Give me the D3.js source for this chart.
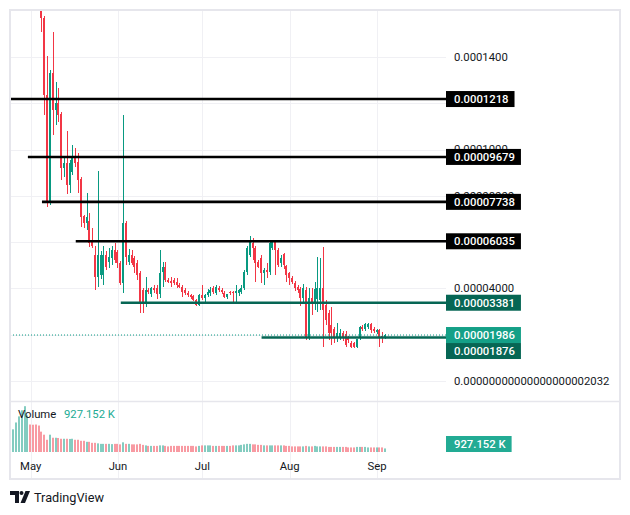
<!DOCTYPE html>
<html><head><meta charset="utf-8">
<script src="https://cdn.jsdelivr.net/npm/d3@7"></script>
<style>body{margin:0;background:#fff}svg{display:block}text{font-family:Roboto,"Liberation Sans",sans-serif}</style>
</head><body><svg id="c" width="630" height="515"></svg>
<script>
// ---- data (prices in units of 1e-6) ----
const startDate = "2024-05-05";
const open  = [160.0,156.8,123.6,76.9,133.1,117.1,120.1,115.3,92.0,94.2,84.7,90.3,96.8,94.6,87.3,71.3,68.3,69.1,60.0,54.4,44.9,45.8,45.8,54.4,51.4,53.1,56.6,55.7,51.0,42.3,68.3,51.4,54.4,53.1,51.0,46.7,39.3,34.1,39.3,37.6,40.2,40.2,37.6,47.1,49.2,43.6,43.2,43.6,42.8,41.5,40.6,39.3,38.0,37.2,36.7,35.0,32.8,37.2,35.9,37.2,38.0,40.2,38.0,40.2,39.3,38.0,36.3,38.4,38.4,38.0,38.0,38.4,40.2,47.1,54.4,59.6,57.5,51.4,53.1,46.7,48.0,47.1,57.5,60.0,56.6,51.0,54.9,49.6,46.7,44.5,42.3,40.6,39.7,35.9,39.3,18.6,35.9,34.1,35.4,35.0,40.2,32.8,29.4,24.2,22.5,19.0,18.6,20.7,20.3,19.0,16.4,16.4,14.7,18.6,23.3,22.5,23.3,24.6,22.5,21.2,22.0,19.4,18.6];
const high  = [162.0,157.5,140.4,134.4,150.8,129.2,126.6,116.0,96.3,108.0,95.5,102.0,100.7,98.5,88.0,71.7,81.2,72.6,66.1,58.3,90.7,56.0,58.3,56.0,57.5,58.3,59.6,56.6,52.0,114.9,69.1,57.0,56.6,54.0,52.3,47.5,40.0,44.9,40.2,40.6,41.5,41.5,56.6,51.4,51.4,44.5,44.9,44.5,44.5,42.3,41.5,40.2,38.9,37.6,37.2,35.4,37.6,41.5,37.6,39.7,40.6,41.0,41.5,41.0,40.2,38.9,37.6,38.9,38.9,41.5,39.7,41.5,48.0,58.3,62.6,61.7,58.3,52.3,54.4,48.8,51.0,60.9,60.4,60.4,57.5,54.4,55.3,50.1,47.1,45.3,43.2,41.5,40.6,41.9,40.6,40.2,40.2,42.8,53.6,53.1,57.9,35.0,30.7,31.9,23.3,25.0,22.5,21.6,21.6,19.4,17.3,16.8,18.1,23.8,24.2,25.1,25.1,25.1,23.3,22.5,22.5,21.0,20.3];
const low   = [150.8,114.9,75.2,76.0,106.3,110.6,111.9,86.8,88.0,80.8,81.2,89.0,92.4,81.2,66.5,66.1,65.2,57.9,57.5,39.3,40.6,44.0,41.5,48.0,48.8,50.1,51.0,48.8,41.5,38.0,50.1,50.1,50.1,46.7,43.6,29.4,29.4,32.0,37.6,36.3,38.0,35.5,35.9,40.6,42.8,42.3,40.6,41.5,40.2,40.2,36.3,37.2,36.3,35.5,34.6,32.4,32.4,35.0,33.7,36.3,36.7,37.6,37.2,38.4,37.6,35.9,35.4,37.2,33.7,33.7,36.7,37.6,39.3,45.8,53.6,52.3,42.8,48.8,42.3,41.5,44.5,45.8,56.6,45.8,49.2,49.2,48.4,42.8,41.5,41.9,38.9,38.0,32.4,33.3,17.7,17.7,28.5,30.7,29.8,30.7,14.7,24.2,17.7,15.6,16.4,16.8,17.7,17.3,14.7,16.4,14.3,14.3,14.3,17.7,21.6,21.6,22.5,20.7,20.7,20.3,14.7,16.4,18.1];
const close = [156.8,123.6,76.9,133.1,117.1,120.1,114.9,92.0,94.2,84.7,94.2,96.8,94.2,86.8,70.8,68.3,70.8,59.6,58.3,44.9,54.4,54.4,54.4,49.2,53.6,56.6,52.3,51.0,42.3,68.3,53.6,54.4,51.0,49.2,45.8,34.1,34.1,39.3,38.4,40.2,39.3,37.6,46.7,49.2,43.6,42.8,42.3,42.3,41.5,40.6,38.4,38.0,37.2,36.3,35.0,32.8,37.2,35.9,37.2,38.4,39.3,38.4,40.6,39.3,38.4,36.3,37.6,38.0,38.0,38.9,39.3,40.2,47.1,57.5,60.9,57.5,51.0,49.2,46.7,48.0,47.1,59.6,60.0,56.6,50.1,53.1,50.1,45.8,44.5,42.8,40.2,39.3,35.9,40.2,18.6,35.9,33.7,39.7,40.2,40.2,30.7,26.4,20.7,20.7,18.6,20.7,20.7,18.6,15.6,17.7,14.7,14.7,18.1,23.3,22.5,24.6,24.6,22.0,21.6,22.0,18.6,19.0,19.86];

const volumeStart = "2024-04-24";
const volumes = [5830,5900,7685,9275,10865,11925,9540,7155,7100,7155,6890,
  5300,4505,3180,4505,3710,3710,3650,3445,3445,3445,
  3400,3445,3180,3180,2915,2915,2650,2650,2385,2385,
  2250,2120,2120,2120,2120,2050,2120,2120,1990,2520,
  2120,2120,1990,1990,1990,2120,1855,1720,1590,1590,
  1590,1590,1720,1720,1590,1460,1590,1590,1590,1590,
  1590,1590,1590,1590,1590,1460,1590,1720,1720,1720,
  1720,1590,1590,1590,1590,1590,1590,1590,1720,1720,
  1720,1855,1990,2120,2120,1990,1990,1855,1855,1720,
  1720,1720,1720,1720,1720,1720,1720,1590,1590,1460,
  1460,1460,1460,1460,1590,1460,1460,1590,1460,1460,
  1460,1460,1325,1325,1325,1325,1325,1325,1325,1190,
  1190,1190,1325,1325,1325,1325,1190,1190,1190,1190,
  1190,1190,927.152];
const earlyVolumeUp = [1,1,1,1,1,1,1,0,0,0,0];
const lastVolumeLabel = "927.152 K";

const levelValues = [121.8, 96.79, 77.38, 60.35, 33.81, 18.76];
const levelLabels = ["0.0001218","0.00009679","0.00007738","0.00006035","0.00003381","0.00001876"];
const levelStarts = ["2024-04-20","2024-04-30","2024-05-05","2024-05-17","2024-06-02","2024-07-22"];
const levelKinds  = ["res","res","res","res","sup","sup"];
const lastPrice = 19.86, lastPriceLabel = "0.00001986";

const yTickValues = [0,20,40,60,80,100,120,140];
const yTickLabels = ["0.00000000000000000002032","0.00002000","0.00004000","0.00006000","0.00008000","0.0001000","0.0001200","0.0001400"];
const monthTicks  = ["2024-05-01","2024-06-01","2024-07-01","2024-08-01","2024-09-01"];
const monthLabels = ["May","Jun","Jul","Aug","Sep"];

// ---- drawing ----
const UP="#089981", DOWN="#f23645", TXT="#131722", GRID="#f0f0f4", BORDER="#e6e6ec";
const FS = 11.3;
const parseDay = d3.utcParse("%Y-%m-%d");
const DAY = 864e5;
const svg = d3.select("#c");
const L=10, R=446, W=620, T=10, MB=401, VB=452, B=479;
const x = d3.scaleUtc().domain([parseDay("2024-05-01"), parseDay("2024-09-01")]).range([30.7, 377]);
const y = d3.scaleLinear().domain([-8.64, 160.26]).range([MB, T]);
const yv = d3.scaleLinear().domain([0, 12500]).range([VB, 404]);

const t0 = parseDay(startDate);
const candles = open.map((o,i)=>({date:new Date(+t0+i*DAY), o, h:high[i], l:low[i], c:close[i]}));
const v0 = parseDay(volumeStart);
const vols = volumes.map((v,i)=>{
  const d = new Date(+v0+i*DAY);
  const ci = Math.round((d - t0)/DAY);
  const up = ci>=0 ? candles[ci].c>=candles[ci].o : !!earlyVolumeUp[i];
  return {date:d, v, up};
});

svg.append("rect").attr("width",630).attr("height",515).attr("fill","#fff");
const defs = svg.append("defs");
defs.append("clipPath").attr("id","mc").append("rect").attr("x",L).attr("y",T).attr("width",R-L).attr("height",MB-T);

// grid
const g = svg.append("g");
g.selectAll(".hg").data(yTickValues).join("line")
  .attr("x1",L).attr("x2",R).attr("y1",d=>Math.round(y(d))+0.5).attr("y2",d=>Math.round(y(d))+0.5)
  .attr("stroke",GRID).attr("stroke-width",1);
g.selectAll(".vg").data(monthTicks).join("line")
  .attr("x1",d=>Math.round(x(parseDay(d)))+0.5).attr("x2",d=>Math.round(x(parseDay(d)))+0.5)
  .attr("y1",T).attr("y2",B).attr("stroke",GRID).attr("stroke-width",1);

// volume
svg.append("g").selectAll("rect").data(vols).join("rect")
  .attr("x",d=>Math.floor(x(d.date))-1).attr("width",2)
  .attr("y",d=>yv(d.v)).attr("height",d=>VB-yv(d.v))
  .attr("fill",d=>d.up?"rgba(8,153,129,0.5)":"rgba(242,54,69,0.5)");

// candles
const cg = svg.append("g").attr("clip-path","url(#mc)").attr("shape-rendering","crispEdges");
const cs = cg.selectAll("g").data(candles).join("g");
cs.append("rect")
  .attr("x",d=>Math.floor(x(d.date))).attr("width",1)
  .attr("y",d=>y(d.h)).attr("height",d=>Math.max(1,y(d.l)-y(d.h)))
  .attr("fill",d=>d.c>=d.o?UP:DOWN);
cs.append("rect")
  .attr("x",d=>Math.floor(x(d.date))-1).attr("width",2)
  .attr("y",d=>y(Math.max(d.o,d.c))).attr("height",d=>Math.max(1,Math.abs(y(d.o)-y(d.c))))
  .attr("fill",d=>d.c>=d.o?UP:DOWN);

// level lines
const lg = svg.append("g").attr("clip-path","url(#mc)");
lg.append("line").attr("x1",L).attr("x2",R).attr("y1",y(lastPrice)).attr("y2",y(lastPrice))
  .attr("stroke",UP).attr("stroke-width",1).attr("stroke-dasharray","1 2");
lg.selectAll(".lv").data(levelValues).join("line")
  .attr("x1",(d,i)=>Math.max(L,x(parseDay(levelStarts[i])))).attr("x2",R)
  .attr("y1",d=>y(d)).attr("y2",d=>y(d))
  .attr("stroke",(d,i)=>levelKinds[i]==="res"?"#000":"#066654").attr("stroke-width",2.6);

// y tick labels (hidden where a price label sits on top, as in the reference)
const allLabelValues = levelValues.concat([lastPrice]);
const shownTicks = yTickValues.map((v,i)=>({v, t:yTickLabels[i]}))
  .filter(d=>!allLabelValues.some(lv=>Math.abs(y(lv)-y(d.v))<5));
svg.append("g").selectAll("text").data(shownTicks).join("text")
  .attr("x",454).attr("y",d=>y(d.v)).attr("dy","0.35em")
  .attr("font-size",FS).attr("fill",TXT).text(d=>d.t);

// price label boxes
const labs = levelValues.map((v,i)=>({v, text:levelLabels[i], fill:levelKinds[i]==="res"?"#000":"#066654"}));
labs.push({v:lastPrice, text:lastPriceLabel, fill:"#14a087", prio:1});
labs.sort((a,b)=> (y(a.v)-y(b.v)) || ((b.prio||0)-(a.prio||0)));
let prev=-1e9;
labs.forEach(l=>{ let yy=y(l.v); if(yy<prev+16) yy=prev+16; l.yy=yy; prev=yy; });
const lb = svg.append("g");
function boxLabel(parent, yy, text, fill){
  const gg = parent.append("g");
  const r = gg.append("rect").attr("x",446).attr("y",yy-8).attr("height",16).attr("fill",fill);
  const t = gg.append("text").attr("x",454).attr("y",yy).attr("dy","0.35em").attr("font-size",FS)
    .attr("font-weight",500).attr("fill","#fff").text(text);
  r.attr("width", t.node().getComputedTextLength()+14);
}
labs.forEach(l=>boxLabel(lb, l.yy, l.text, l.fill));

// time labels
svg.append("g").selectAll("text").data(monthTicks).join("text")
  .attr("x",d=>x(parseDay(d))).attr("y",466).attr("dy","0.35em").attr("text-anchor","middle")
  .attr("font-size",FS).attr("fill",TXT).text((d,i)=>monthLabels[i]);

// volume legend
svg.append("text").attr("x",18).attr("y",414).attr("dy","0.35em").attr("font-size",FS).attr("fill",TXT).text("Volume");
svg.append("text").attr("x",64).attr("y",414).attr("dy","0.35em").attr("font-size",FS).attr("fill","#22ab94").text(lastVolumeLabel);
const vy = Math.min(yv(volumes[volumes.length-1]), VB-8);
boxLabel(svg, vy, lastVolumeLabel, "#22ab94");

// borders
svg.append("line").attr("x1",L).attr("x2",W).attr("y1",MB+0.5).attr("y2",MB+0.5).attr("stroke",BORDER).attr("stroke-width",1.5);
svg.append("rect").attr("x",L).attr("y",T).attr("width",W-L).attr("height",B-T)
  .attr("fill","none").attr("stroke",BORDER).attr("stroke-width",2);

// logo
const lgo = svg.append("g").attr("fill",TXT);
lgo.append("path").attr("d","M10 491 h9 v12 h-4 v-8 h-5 z");
lgo.append("circle").attr("cx",21.5).attr("cy",493).attr("r",2);
lgo.append("path").attr("d","M25.5 491 h4.5 l-5 12 h-4.5 z");
svg.append("text").attr("x",34).attr("y",497).attr("dy","0.35em").attr("font-size",13.5)
  .attr("textLength",70).attr("lengthAdjust","spacingAndGlyphs").attr("fill",TXT).text("TradingView");
</script></body></html>
